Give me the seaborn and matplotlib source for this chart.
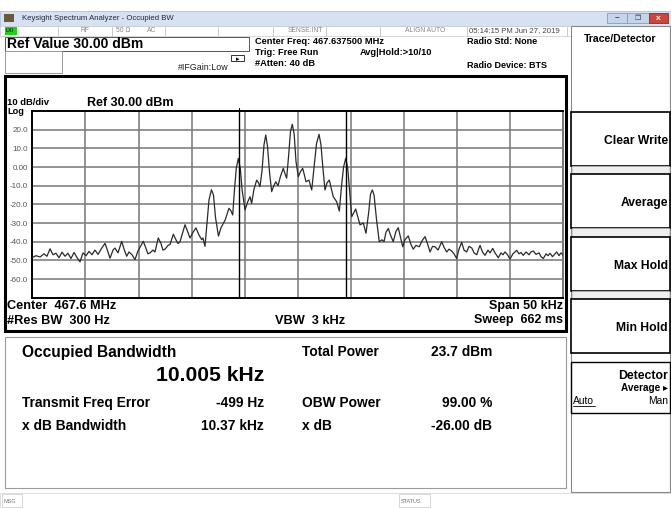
import numpy as np
import pandas as pd
import seaborn as sns
import matplotlib.pyplot as plt
from matplotlib.patches import Rectangle

# ---- values ----
center_mhz = 467.6375
span_khz = 50
ref_level = 30.0
db_per_div = 10
obw_khz = 10.005
freq_err_hz = -499

# trace: offset from center (kHz) / level (dBm)
freq_khz = [
    -25.0, -24.65, -24.27, -23.9, -23.62, -23.33, -23.05, -22.77, -22.49, -22.2,
    -21.92, -21.64, -21.36, -21.07, -20.79, -20.51, -20.23, -19.94, -19.66, -19.38,
    -19.1, -18.81, -18.47, -18.15, -17.87, -17.68, -17.4, -17.21, -16.93, -16.58,
    -16.36, -16.11, -15.9, -15.61, -15.33, -15.05, -14.86, -14.55, -14.3, -14.11,
    -13.92, -13.64, -13.45, -13.14, -12.88, -12.7, -12.5, -12.22, -12.03, -11.72,
    -11.47, -11.28, -11.09, -10.86, -10.62, -10.38, -10.15, -9.87, -9.59, -9.3,
    -9.05, -8.93, -8.74, -8.55, -8.36, -8.13, -7.94, -7.75, -7.47, -7.23,
    -7.01, -6.85, -6.48, -6.29, -6.13, -5.96, -5.79, -5.6, -5.41, -5.25,
    -4.97, -4.74, -4.5, -4.35, -4.13, -3.87, -3.7, -3.56, -3.37, -3.18,
    -3.02, -2.85, -2.66, -2.46, -2.29, -2.08, -1.86, -1.63, -1.37, -1.21,
    -1.05, -0.88, -0.69, -0.52, -0.34, -0.17, 0.05, 0.25, 0.46, 0.63,
    0.77, 1.05, 1.31, 1.53, 1.76, 2.0, 2.18, 2.37, 2.56, 2.75,
    2.97, 3.13, 3.34, 3.66, 3.91, 4.12, 4.31, 4.51, 4.7, 4.87,
    5.08, 5.45, 5.67, 5.86, 6.17, 6.42, 6.66, 6.85, 7.02, 7.18,
    7.41, 7.67, 7.93, 8.12, 8.3, 8.52, 8.73, 8.99, 9.24, 9.46,
    9.67, 9.88, 10.09, 10.4, 10.66, 10.87, 11.13, 11.44, 11.7, 11.98,
    12.21, 12.45, 12.69, 12.92, 13.21, 13.55, 13.77, 14.02, 14.24, 14.49,
    14.71, 14.96, 15.18, 15.43, 15.65, 15.9, 16.12, 16.38, 16.6, 16.85,
    17.02, 17.16, 17.39, 17.63, 17.91, 18.1, 18.35, 18.57, 18.88, 19.13,
    19.32, 19.51, 19.75, 19.98, 20.26, 20.61, 20.83, 21.02, 21.23, 21.49,
    21.77, 21.96, 22.18, 22.43, 22.72, 22.9, 23.12, 23.37, 23.56, 23.75,
    23.98, 24.22, 24.38, 24.59, 24.78, 25.0,
]
level_dbm = [
    -48.5, -47.5, -48.2, -46.5, -47.8, -43.8, -47.0, -46.2, -48.6, -45.6,
    -47.8, -46.2, -49.0, -45.8, -48.5, -50.8, -46.0, -47.5, -45.2, -47.0,
    -44.5, -46.8, -43.5, -40.9, -45.5, -48.8, -44.5, -43.4, -46.0, -39.8,
    -44.0, -47.8, -45.5, -47.0, -49.6, -45.0, -43.0, -39.8, -43.5, -46.5,
    -46.0, -44.5, -45.5, -38.0, -41.0, -44.5, -44.0, -42.0, -41.5, -36.0,
    -39.0, -41.0, -40.0, -35.5, -30.9, -34.5, -38.0, -35.0, -32.6, -36.5,
    -38.9, -38.0, -42.5, -30.0, -17.5, -12.2, -15.0, -27.0, -37.0, -32.5,
    -30.2, -28.5, -22.1, -23.5, -25.7, -12.0, -0.5, 4.6, -1.0, -12.0,
    -23.0, -19.0, -15.9, -19.5, -12.0, -7.0, -8.5, -10.5, -2.0, 12.0,
    17.1, 11.0, -3.0, -13.2, -10.5, -7.9, -10.0, -5.0, -0.7, -3.5,
    -6.0, 5.0, 19.0, 22.9, 17.5, 3.0, -5.2, -2.5, -0.7, -4.5,
    -7.9, -7.0, -12.3, 0.0, 12.5, 17.5, 12.0, -1.0, -12.3, -8.5,
    -7.0, -11.0, -15.9, -18.6, -23.6, -10.0, 0.0, 4.6, -0.5, -12.0,
    -26.6, -22.5, -27.0, -31.0, -30.0, -35.5, -25.0, -14.5, -12.3, -15.0,
    -28.0, -40.0, -39.0, -40.0, -35.0, -32.9, -36.5, -40.0, -34.5, -32.5,
    -37.5, -42.7, -39.0, -36.9, -41.5, -44.0, -42.0, -42.7, -39.5, -37.3,
    -41.0, -45.5, -42.5, -42.7, -44.5, -40.0, -43.0, -45.5, -44.0, -45.0,
    -46.5, -49.0, -44.0, -40.3, -44.5, -45.5, -42.5, -43.4, -46.0, -47.0,
    -44.0, -42.0, -45.5, -47.3, -44.5, -46.0, -43.6, -46.0, -48.6, -46.0,
    -47.0, -45.5, -47.0, -49.3, -46.5, -44.6, -46.5, -45.8, -47.3, -45.5,
    -47.0, -45.5, -45.0, -46.8, -46.0, -48.0, -49.0, -46.5, -47.5, -46.2,
    -48.0, -46.5, -45.5, -47.5, -46.0, -47.3,
]
ytick_vals = [20, 10, 0, -10, -20, -30, -40, -50, -60]
ytick_labels = ["20.0", "10.0", "0.00", "-10.0", "-20.0", "-30.0", "-40.0", "-50.0", "-60.0"]

results_left = [("Transmit Freq Error", "-499 Hz"), ("x dB Bandwidth", "10.37 kHz")]
results_right = [("OBW Power", "99.00 %"), ("x dB", "-26.00 dB")]
softkeys = ["Clear Write", "Average", "Max Hold", "Min Hold"]

sns.set_style("white")
plt.rcParams['font.family'] = ['Liberation Sans', 'DejaVu Sans']

W, H = 671, 508
fig = plt.figure(figsize=(W / 100, H / 100), dpi=100)
fig.patch.set_facecolor("white")


def fx(x):
    return x / W


def fy(y):
    return 1 - y / H


def box(x0, y0, x1, y1, fc="none", ec="black", lw=1.0, z=1):
    fig.add_artist(Rectangle((fx(x0), fy(y1)), fx(x1) - fx(x0), fy(y0) - fy(y1),
                             transform=fig.transFigure, facecolor=fc,
                             edgecolor=ec, linewidth=lw, zorder=z))


def txt(x, y, s, size=7, ha="left", weight="bold", color="black", **kw):
    fig.text(fx(x), fy(y), s, fontsize=size, ha=ha, va="center",
             fontweight=weight, color=color, **kw)


# window title bar
box(0, 11, W, 26, fc="#d6e2f3", ec="#aebfd8", lw=0.6)
box(4, 14, 14, 22, fc="#6b5a3a", ec="none")
txt(22, 18.5, "Keysight Spectrum Analyzer - Occupied BW", 5.6, weight="normal", color="#1e2a3a")
box(607, 13, 627, 23, fc="#c5d4ea", ec="#8a9bb5", lw=0.6)
box(627, 13, 649, 23, fc="#c5d4ea", ec="#8a9bb5", lw=0.6)
box(649, 13, 668, 23, fc="#c9473c", ec="#8c2b22", lw=0.6)
txt(617, 18, "–", 6, ha="center", color="#333")
txt(638, 18, "❐", 5, ha="center", weight="normal", color="#333")
txt(658.5, 18, "x", 6, ha="center", color="white")

# status row
box(0, 26, W, 36, fc="white", ec="#c8c8c8", lw=0.5)
for sx in [58, 112, 165, 218, 273, 326, 380, 467, 567]:
    fig.add_artist(plt.Line2D([fx(sx), fx(sx)], [fy(26.5), fy(35.5)],
                              transform=fig.transFigure, color="#c0c0c0", lw=0.6))
box(5, 27, 17, 34.5, fc="#1fd11f", ec="none")
txt(6, 31, "LXI", 3.6, color="#0a3a0a")
txt(85, 31, "RF", 4.9, ha="center", weight="normal", color="#888")
txt(123, 31, "50 Ω", 4.9, ha="center", weight="normal", color="#888")
txt(152, 31, "AC", 4.9, ha="center", weight="normal", color="#888")
txt(305, 31, "SENSE:INT", 4.9, ha="center", weight="normal", color="#888")
txt(425.5, 31, "ALIGN AUTO", 4.9, ha="center", weight="normal", color="#888")
txt(469, 31, "05:14:15 PM Jun 27, 2019", 5.6, weight="normal", color="#444")

# header with settings
box(5, 37, 249, 51, ec="#555", lw=0.7)
txt(7, 44, "Ref Value 30.00 dBm", 10.0)
box(5, 51, 62, 73, ec="#999", lw=0.7)
txt(178, 67.5, "#IFGain:Low", 6.4, weight="normal", color="#222")
box(231, 55, 244, 61, fc="white", ec="#333", lw=0.7)
txt(237.5, 59.5, "▸", 5, ha="center", weight="normal", family=["DejaVu Sans"])
txt(255, 41.5, "Center Freq: 467.637500 MHz", 6.7)
txt(255, 52.5, "Trig: Free Run", 6.7)
txt(360, 52.5, "Avg|Hold:>10/10", 6.7)
txt(255, 64, "#Atten: 40 dB", 6.7)
txt(467, 42, "Radio Std: None", 6.5)
txt(467, 65, "Radio Device: BTS", 6.5)

# plot panel
box(5, 76, 566, 331, ec="black", lw=2.2, z=0)
txt(7, 102.5, "10 dB/div", 6.8)
txt(87, 102.5, "Ref 30.00 dBm", 9.0)
txt(7, 112, "Log", 6.6)
txt(7, 306, "Center  467.6 MHz", 9.2)
txt(7, 320.5, "#Res BW  300 Hz", 9.2)
txt(345, 320.5, "VBW  3 kHz", 9.2, ha="right")
txt(563, 306, "Span 50 kHz", 9.0, ha="right")
txt(563, 320.5, "Sweep  662 ms", 9.0, ha="right")

ax = fig.add_axes([fx(32.3), fy(297.7), fx(563.3) - fx(32.3), fy(111) - fy(297.7)])
df = pd.DataFrame({"freq": freq_khz, "level": level_dbm})
sns.lineplot(data=df, x="freq", y="level", ax=ax, color="#2a2a2a",
             linewidth=0.9, estimator=None, sort=False, zorder=3)
half = span_khz / 2
ax.set_xlim(-half, half)
ax.set_ylim(ref_level - 10 * db_per_div, ref_level)
ax.set_xticks(np.arange(-half, half + 0.1, span_khz / 10))
ax.set_xticklabels([])
ax.set_yticks(ytick_vals)
ax.set_yticklabels(ytick_labels, fontsize=5.8, color="#555")
ax.tick_params(axis="both", length=0, pad=3)
ax.grid(True, color="#767676", linewidth=1.1)
ax.set_xlabel("")
ax.set_ylabel("")
for side, sp in ax.spines.items():
    sp.set_color("black" if side in ("left", "top", "bottom") else "#777")
    sp.set_linewidth(1.4)

obw_center = freq_err_hz / 1000
for edge in (obw_center - obw_khz / 2, obw_center + obw_khz / 2):
    ax.axvline(edge, color="black", linewidth=1.0, zorder=4)
ax.plot([obw_center - obw_khz / 2] * 2, [ref_level, ref_level + 1.5],
        color="black", lw=0.8, clip_on=False)

# results panel
box(5, 337, 566, 488, ec="#9a9a9a", lw=0.8)
txt(22, 352, "Occupied Bandwidth", 11.2)
txt(264, 375.5, f"{obw_khz:.3f} kHz", 15.2, ha="right")
txt(302, 352, "Total Power", 9.9)
txt(492, 352, "23.7 dBm", 9.9, ha="right")
for i, (lab, val) in enumerate(results_left):
    yy = 403 + 23 * i
    txt(22, yy, lab, 9.9)
    txt(264, yy, val, 9.9, ha="right")
for i, (lab, val) in enumerate(results_right):
    yy = 403 + 23 * i
    txt(302, yy, lab, 9.9)
    txt(492, yy, val, 9.9, ha="right")

# bottom bar
box(0, 493, W, H, fc="white", ec="#d0d0d0", lw=0.5)
box(2, 494, 22, 507, ec="#c8c8c8", lw=0.5)
txt(4, 501.5, "MSG", 4.0, weight="normal", color="#777")
box(399, 494, 430, 507, ec="#c8c8c8", lw=0.5)
txt(401, 501.5, "STATUS", 4.0, weight="normal", color="#777")

# right softkey panel
box(571, 26, 670, 492, fc="white", ec="#888", lw=0.8)
txt(620, 38.5, "Trace/Detector", 7.6, ha="center")
key_tops = [113, 175, 238, 300]
for k, top in zip(softkeys, key_tops):
    box(571, top - 1, 670, top + 53, fc="white", ec="black", lw=1.2)
    if k != softkeys[-1]:
        box(572, top + 53, 669, top + 62, fc="#eeeeee", ec="#bbbbbb", lw=0.5)
    txt(668, top + 28, k, 8.7, ha="right")
box(571, 362, 670, 413, fc="white", ec="black", lw=1.0)
txt(668, 376, "Detector", 8.8, ha="right")
txt(668, 388, "Average ▸", 7.2, ha="right")
txt(573, 400.5, "Auto", 7.4, weight="normal")
fig.add_artist(plt.Line2D([fx(573), fx(595)], [fy(405.5), fy(405.5)],
                          transform=fig.transFigure, color="black", lw=0.6))
txt(668, 400.5, "Man", 7.4, ha="right", weight="normal")

fig.savefig("out.png", dpi=100)
